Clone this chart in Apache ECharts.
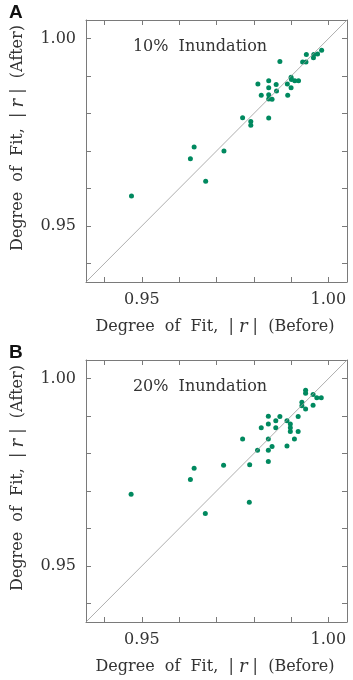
<!DOCTYPE html>
<html>
<head>
<meta charset="utf-8">
<script src="https://cdn.jsdelivr.net/npm/echarts@6/dist/echarts.min.js"></script>
<style>
  html, body { margin: 0; padding: 0; background: #fff; }
  #chart { width: 353px; height: 680px; }
</style>
</head>
<body>
<div id="chart"></div>
<script>
// axis range and ticks (same for both panels)
const axisMin = 0.935;
const axisMax = 1.005;
const tickValues = [0.94, 0.95, 0.96, 0.97, 0.98, 0.99, 1.00];
const labelValues = [0.95, 1.00];
const diagonal = [[0.935, 0.935], [1.005, 1.005]];

// panel A: 10% inundation, [before, after]
const pointsA = [
  [0.9941, 0.9958], [0.9961, 0.9958], [0.9971, 0.9959], [0.9982, 0.9969],
  [0.9960, 0.9949], [0.9931, 0.9938], [0.9940, 0.9938], [0.9870, 0.9939],
  [0.9900, 0.9897], [0.9901, 0.9891], [0.9910, 0.9888], [0.9920, 0.9888],
  [0.9890, 0.9879], [0.9900, 0.9869], [0.9861, 0.9860], [0.9891, 0.9849],
  [0.9840, 0.9888], [0.9811, 0.9879], [0.9860, 0.9878], [0.9840, 0.9869],
  [0.9820, 0.9849], [0.9840, 0.9850], [0.9840, 0.9839], [0.9849, 0.9838],
  [0.9770, 0.9789], [0.9792, 0.9779], [0.9792, 0.9769], [0.9840, 0.9788],
  [0.9640, 0.9711], [0.9720, 0.9700], [0.9630, 0.9679], [0.9671, 0.9619],
  [0.9472, 0.9580]
];

// panel B: 20% inundation, [before, after]
const pointsB = [
  [0.9939, 0.9969], [0.9939, 0.9961], [0.9959, 0.9958], [0.9969, 0.9949],
  [0.9981, 0.9949], [0.9929, 0.9937], [0.9929, 0.9928], [0.9959, 0.9929],
  [0.9939, 0.9919], [0.9839, 0.9900], [0.9870, 0.9899], [0.9859, 0.9888],
  [0.9839, 0.9879], [0.9889, 0.9888], [0.9898, 0.9879], [0.9919, 0.9899],
  [0.9820, 0.9869], [0.9859, 0.9869], [0.9898, 0.9869], [0.9898, 0.9859],
  [0.9919, 0.9859], [0.9770, 0.9839], [0.9839, 0.9839], [0.9909, 0.9839],
  [0.9849, 0.9819], [0.9810, 0.9809], [0.9839, 0.9809], [0.9889, 0.9820],
  [0.9839, 0.9779], [0.9789, 0.9770], [0.9640, 0.9761], [0.9719, 0.9769],
  [0.9630, 0.9731], [0.9471, 0.9691], [0.9788, 0.9670], [0.9670, 0.9640]
];

const panels = [
  { tag: 'A', title: '10%  Inundation', points: pointsA, top: 20 },
  { tag: 'B', title: '20%  Inundation', points: pointsB, top: 360 }
];

const font = 'DejaVu Serif';
const frameColor = '#7a7a7a';
const dotColor = '#00895f';
const textColor = '#333';

function makeAxis(gridIndex, position, withLabels) {
  return {
    type: 'value',
    gridIndex: gridIndex,
    position: position,
    min: axisMin,
    max: axisMax,
    splitLine: { show: false },
    axisLine: { show: true, onZero: false, lineStyle: { color: frameColor, width: 1 } },
    axisTick: {
      show: true, inside: true, length: 5,
      customValues: tickValues,
      lineStyle: { color: frameColor, width: 1 }
    },
    axisLabel: {
      show: withLabels,
      customValues: labelValues,
      margin: 10,
      color: textColor,
      fontFamily: font,
      fontSize: 16,
      formatter: v => v.toFixed(2)
    }
  };
}

function axisName(text, x, y, rotation) {
  return {
    type: 'text', x: x, y: y, rotation: rotation,
    style: {
      text: text,
      fill: textColor, font: '16px "' + font + '"',
      textAlign: 'center', textVerticalAlign: 'middle',
      rich: { i: { fontStyle: 'italic', fontFamily: font, fontSize: 18, fill: textColor } }
    }
  };
}

const grids = [], xAxes = [], yAxes = [], series = [], graphics = [];

panels.forEach((p, i) => {
  grids.push({ left: 86, top: p.top, width: 261, height: 262 });
  xAxes.push(makeAxis(i, 'bottom', true), makeAxis(i, 'top', false));
  yAxes.push(makeAxis(i, 'left', true), makeAxis(i, 'right', false));

  series.push({
    type: 'line',
    xAxisIndex: i * 2, yAxisIndex: i * 2,
    data: diagonal,
    symbol: 'none',
    silent: true,
    lineStyle: { color: '#999', width: 0.8 }
  });
  series.push({
    type: 'scatter',
    xAxisIndex: i * 2, yAxisIndex: i * 2,
    data: p.points,
    symbolSize: 5,
    itemStyle: { color: dotColor, opacity: 1 }
  });

  // panel letter
  graphics.push({
    type: 'text', left: 9, top: p.top - 17,
    style: { text: p.tag, font: 'bold 19px "Liberation Sans"', fill: '#111' }
  });
  // inundation label
  graphics.push({
    type: 'text', x: 200, y: p.top + 27,
    style: {
      text: p.title, fill: textColor, font: '16px "' + font + '"',
      textAlign: 'center', textVerticalAlign: 'middle'
    }
  });
  graphics.push(axisName('Degree  of  Fit,  | {i|r} |  (Before)', 215, p.top + 307, 0));
  graphics.push(axisName('Degree  of  Fit,  | {i|r} |  (After)', 18, p.top + 118, Math.PI / 2));
});

const chart = echarts.init(document.getElementById('chart'));
chart.setOption({
  animation: false,
  grid: grids,
  xAxis: xAxes,
  yAxis: yAxes,
  series: series,
  graphic: graphics
});
</script>
</body>
</html>
